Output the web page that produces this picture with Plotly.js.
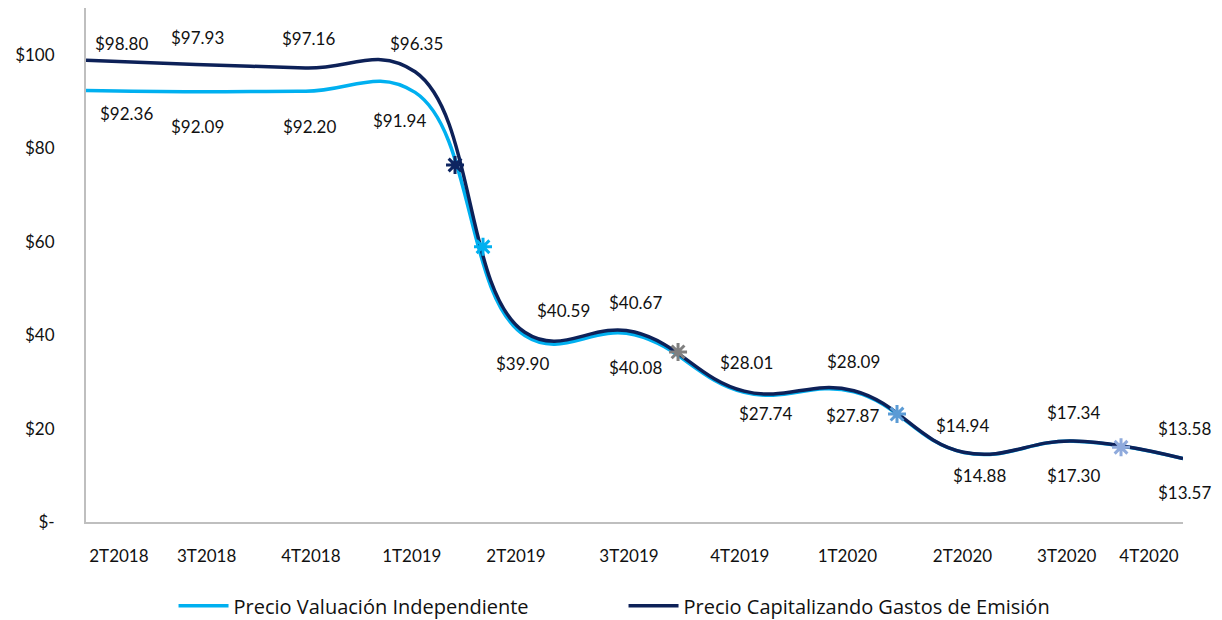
<!DOCTYPE html>
<html>
<head>
<meta charset="utf-8">
<script src="https://cdn.plot.ly/plotly-3.0.1.min.js"></script>
<style>
  html, body { margin: 0; padding: 0; background: #ffffff; }
  #chart { width: 1222px; height: 620px; }
</style>
</head>
<body>
<div id="chart"></div>
<script>
// ---- data ----
const categories = ['2T2018','3T2018','4T2018','1T2019','2T2019','3T2019','4T2019','1T2020','2T2020','3T2020','4T2020'];
const precioValuacion = [92.36, 92.09, 92.20, 91.94, 39.90, 40.08, 27.74, 27.87, 14.88, 17.30, 13.57];
const precioCapitalizando = [98.80, 97.93, 97.16, 96.35, 40.59, 40.67, 28.01, 28.09, 14.94, 17.34, 13.58];
const seriesNames = ['Precio Valuación Independiente', 'Precio Capitalizando Gastos de Emisión'];
// asterisk markers (x in category-index units, y in $)
const markerX = [3.364, 3.619, 5.397, 7.393, 9.435];
const markerY = [76.4, 58.9, 36.4, 23.1, 16.0];
const yTickVals = [0, 20, 40, 60, 80, 100];
const yTickText = ['$-', '$20', '$40', '$60', '$80', '$100'];

// ---- layout helpers (positions/styles) ----
const xIdx = categories.map((c, i) => i);
const tickPos = [0.3, 1.1, 2.05, 2.97, 3.92, 4.95, 5.96, 6.94, 7.99, 8.94, 9.69];
const darkShift = [[35,-17],[2,-27],[3,-30],[1,-28],[39,-22],[1,-29],[2,-29],[0,-29],[-1,-27],[0,-28],[1,-30]];
const lightShift = [[40,23],[2,35],[4,35],[-16,28],[-2,28],[1,33],[21,21],[-1,24],[16,23],[0,34],[1,34]];
const markerColors = ['#0d2561', '#00b0f0', '#808080', '#5b9bd5', '#8faadc'];
const LIGHT = '#00b0f0', DARK = '#0d2158';
const FONT = 'Lato, "Open Sans", sans-serif';

const traces = [
  {
    x: xIdx, y: precioValuacion, name: seriesNames[0], type: 'scatter', mode: 'lines',
    line: { color: LIGHT, width: 3.5, shape: 'spline', smoothing: 1.2 }
  },
  {
    x: xIdx, y: precioCapitalizando, name: seriesNames[1], type: 'scatter', mode: 'lines',
    line: { color: DARK, width: 3.5, shape: 'spline', smoothing: 1.2 }
  },
  {
    x: markerX, y: markerY, type: 'scatter', mode: 'markers', showlegend: false, hoverinfo: 'skip',
    marker: { symbol: 'asterisk-open', size: 15, color: markerColors, line: { color: markerColors, width: 3 } }
  }
];

const fmt = v => '$' + v.toFixed(2);
const annotations = [];
precioCapitalizando.forEach((v, i) => {
  annotations.push({ x: i, y: v, xref: 'x', yref: 'y', text: fmt(v), showarrow: false,
    xanchor: 'center', yanchor: 'middle', xshift: darkShift[i][0], yshift: -darkShift[i][1],
    font: { family: FONT, size: 17, color: '#111' } });
});
precioValuacion.forEach((v, i) => {
  annotations.push({ x: i, y: v, xref: 'x', yref: 'y', text: fmt(v), showarrow: false,
    xanchor: 'center', yanchor: 'middle', xshift: lightShift[i][0], yshift: -lightShift[i][1],
    font: { family: FONT, size: 17, color: '#111' } });
});

const layout = {
  width: 1222, height: 620,
  margin: { l: 86, r: 39, t: 8, b: 98, autoexpand: false },
  paper_bgcolor: '#ffffff', plot_bgcolor: '#ffffff',
  font: { family: FONT, size: 16, color: '#111' },
  xaxis: {
    range: [0, 10], showgrid: false, zeroline: false, automargin: false,
    showline: true, linecolor: '#bfbfbf', linewidth: 2,
    tickmode: 'array', tickvals: tickPos, ticktext: categories,
    ticks: '', ticklabelstandoff: 18,
    tickfont: { family: FONT, size: 17, color: '#111' }
  },
  yaxis: {
    range: [0, 110], showgrid: false, zeroline: false, automargin: false,
    showline: true, linecolor: '#bfbfbf', linewidth: 2,
    tickmode: 'array', tickvals: yTickVals, ticktext: yTickText,
    ticks: '', ticklabelstandoff: 26,
    tickfont: { family: FONT, size: 17, color: '#111' }
  },
  showlegend: true,
  legend: {
    orientation: 'h', x: 0.49, xref: 'paper', xanchor: 'center', y: -0.163, yanchor: 'middle',
    font: { family: '"Open Sans", sans-serif', size: 20, color: '#111' },
    entrywidth: 385, entrywidthmode: 'pixels', itemwidth: 50, tracegroupgap: 0
  },
  annotations: annotations
};

Plotly.newPlot('chart', traces, layout, { displayModeBar: false, staticPlot: true });
</script>
</body>
</html>
